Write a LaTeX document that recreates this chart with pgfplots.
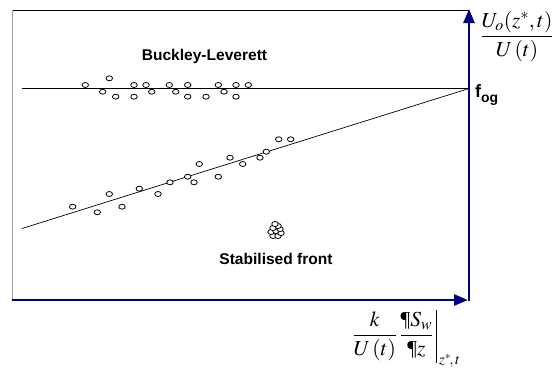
\documentclass[border=0pt]{standalone}
\usepackage{mathptmx}
\usepackage{fontspec}
\setmainfont{Liberation Serif}
\newfontfamily\arialb[BoldFont={* Bold}]{Liberation Sans}
\usepackage{pgfplots}
\pgfplotsset{compat=1.18}
\usetikzlibrary{arrows.meta}
\definecolor{navy}{RGB}{0,0,128}
\begin{document}
\begin{tikzpicture}
\begin{axis}[
  scale only axis, width=456.5bp, height=290bp,
  xmin=12.5, xmax=469, ymin=10, ymax=300, y dir=reverse,
  enlargelimits=false, hide axis, clip=false,
  every axis plot/.append style={black},
]
% reference lines
\addplot[no marks, line width=0.9bp] coordinates {(22,88.5) (469,88.5)};
\addplot[no marks, line width=0.7bp] coordinates {(22,228.5) (469,88.5)};
% Buckley-Leverett scatter
\addplot[only marks, mark=*, mark size=2.5bp, mark options={fill=white, draw=black, line width=0.8bp, xscale=1.3}] coordinates {
(85.3,85) (109.3,78.3) (102.7,91.7) (115.7,96.7) (134,85) (134,96.7) (146,85) (151.7,91.7)
(169.3,85) (175.7,91.7) (187.7,85) (187.7,96.7) (206,96.7) (218.3,85) (224,91.7) (236,85)
(236,96.7) (248.3,85)};
% lower scatter
\addplot[only marks, mark=*, mark size=2.5bp, mark options={fill=white, draw=black, line width=0.8bp, xscale=1.3}] coordinates {
(72.7,206.7) (97.3,212.3) (109.3,194) (122,206.7) (139.3,188.7) (158,194) (170,182.3)
(187.7,176.7) (194,182.3) (199.3,164) (218.3,176.7) (230,157.7) (242.7,164) (260,157.7)
(266.3,151.7) (278.7,139.3) (290.7,139.3)};
% stabilised cluster
\addplot[only marks, mark=*, mark size=2.5bp, mark options={fill=white, draw=black, line width=0.8bp, xscale=1.3}] coordinates {
(273,236) (278,236) (281,233) (271,232) (276,231) (280,229) (273,228) (278,226) (275,224)};
% frame
\draw[gray!75, line width=1.3bp] (axis cs:12.7,10) -- (axis cs:12.7,300);
\draw[black, line width=0.8bp] (axis cs:12.7,10) -- (axis cs:469,10);
\draw[navy, line width=2.6bp, -{Triangle[length=14bp,width=11bp]}] (axis cs:12,300) -- (axis cs:468,300);
\draw[navy, line width=2.6bp, -{Triangle[length=14bp,width=11bp]}] (axis cs:469,301.3) -- (axis cs:469,9);
% texts
\node[font=\arialb\bfseries\fontsize{15.6}{18}\selectfont] at (axis cs:204.5,56) {Buckley-Leverett};
\node[font=\arialb\bfseries\fontsize{15.6}{18}\selectfont] at (axis cs:276,259) {Stabilised front};
\node[anchor=west, font=\arialb\bfseries\fontsize{18}{20}\selectfont, inner sep=0pt] at (axis cs:475,95) {f\raisebox{-5bp}{\fontsize{14}{15}\selectfont og}};
\node[inner sep=0pt, font=\fontsize{21.5}{25}\selectfont] at (axis cs:517,37)
  {$\displaystyle\frac{U_o(z^{*},t)}{U\,(t)}$};
\node[inner sep=0pt, font=\fontsize{21.5}{25}\selectfont, anchor=east] at (axis cs:433.5,336)
  {$\displaystyle\frac{k}{U\,(t)}\,\frac{\textrm{\P}S_w}{\textrm{\P}z}$};
\draw[black, line width=0.8bp] (axis cs:436.5,310) -- (axis cs:436.5,363);
\node[inner sep=0pt, font=\fontsize{15}{17}\selectfont, anchor=west] at (axis cs:439,361)
  {$z^{*}\!,t$};
\path (axis cs:0,0) (axis cs:560,369);
\end{axis}
\end{tikzpicture}
\end{document}
